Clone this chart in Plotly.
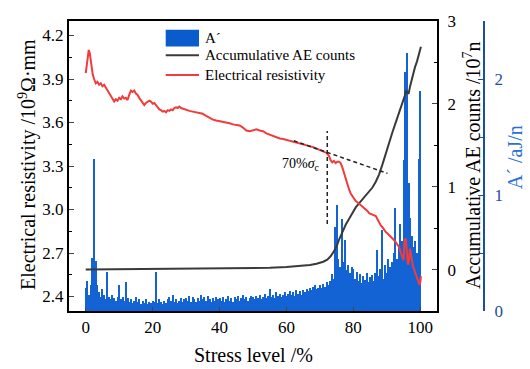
import plotly.graph_objects as go

# ---------------- data ----------------
# A' (aJ/n) bars, every 0.5 % stress level from 0 to 100
a_stress = [i * 0.5 for i in range(201)]
a_vals = [
    0.20, 0.26, 0.14, 0.22, 0.46, 1.31, 0.43, 0.22, 0.16, 0.12,
    0.19, 0.14, 0.10, 0.34, 0.12, 0.10, 0.14, 0.11, 0.09, 0.12,
    0.22, 0.10, 0.12, 0.09, 0.25, 0.11, 0.08, 0.10, 0.07, 0.09,
    0.12, 0.08, 0.10, 0.06, 0.09, 0.07, 0.10, 0.06, 0.08, 0.07,
    0.09, 0.08, 0.34, 0.07, 0.10, 0.08, 0.06, 0.09, 0.07, 0.10,
    0.12, 0.09, 0.14, 0.08, 0.10, 0.07, 0.09, 0.11, 0.08, 0.10,
    0.11, 0.09, 0.13, 0.08, 0.12, 0.10, 0.08, 0.11, 0.09, 0.14,
    0.10, 0.12, 0.09, 0.13, 0.10, 0.08, 0.11, 0.09, 0.12, 0.10,
    0.11, 0.09, 0.12, 0.08, 0.10, 0.13, 0.09, 0.11, 0.08, 0.12,
    0.10, 0.13, 0.09, 0.11, 0.14, 0.10, 0.12, 0.09, 0.11, 0.13,
    0.12, 0.10, 0.13, 0.11, 0.14, 0.10, 0.12, 0.15, 0.11, 0.13,
    0.19, 0.12, 0.14, 0.11, 0.16, 0.13, 0.15, 0.12, 0.14, 0.16,
    0.13, 0.15, 0.17, 0.14, 0.16, 0.13, 0.18, 0.15, 0.17, 0.14,
    0.18, 0.16, 0.19, 0.17, 0.20, 0.18, 0.21, 0.22, 0.19, 0.20,
    0.22, 0.20, 0.23, 0.21, 0.25, 0.22, 0.26, 0.32, 0.28, 0.72,
    0.91, 0.45, 0.38, 0.79, 0.42, 0.61, 0.35, 0.40, 0.33, 0.38,
    0.36, 0.28, 0.34, 0.26, 0.32, 0.24, 0.30, 0.27, 0.33, 0.25,
    0.29, 0.31, 0.26, 0.33, 0.53, 0.30, 0.36, 0.70, 0.28, 0.40,
    0.33, 0.45, 0.38, 0.42, 0.50, 0.89, 0.45, 0.55, 0.75, 0.60,
    1.30, 2.06, 2.22, 1.10, 0.80, 0.65, 0.55, 0.60, 0.50, 1.31,
    1.90,
]

# Accumulative AE counts (10^7 n)
acc_stress = [0, 10, 20, 30, 40, 50, 55, 60, 64, 67, 69, 71, 72.2, 73.2, 74.2,
              75.2, 75.7, 76.7, 77.7, 78.7, 79.7, 80.7, 81.7, 82.7, 83.7, 84.7,
              85.7, 86.7, 87.7, 88.7, 89.7, 90.7, 91.7, 92.7, 93.7, 94.7, 95.4,
              95.7, 96.0, 96.5, 97.0, 97.7, 98.4, 99.0, 99.6, 100.2]
acc_vals = [0.0, 0.003, 0.006, 0.009, 0.013, 0.018, 0.022, 0.03, 0.04, 0.055,
            0.07, 0.095, 0.12, 0.16, 0.22, 0.30, 0.36, 0.46, 0.54, 0.61, 0.68,
            0.75, 0.80, 0.85, 0.89, 0.94, 0.99, 1.06, 1.15, 1.27, 1.41, 1.54,
            1.66, 1.78, 1.89, 2.01, 2.10, 2.16, 2.14, 2.12, 2.22, 2.35, 2.44,
            2.51, 2.60, 2.69]

# Electrical resistivity (10^9 Ohm mm)
res_stress = [0.0, 0.3, 0.6, 0.9, 1.2, 1.5, 1.8, 2.1, 2.5, 3.0, 3.5, 4.0, 4.5,
              5.0, 5.5, 6.0, 6.5, 7.0, 7.5, 8.0, 8.5, 9.0, 9.5, 10.0, 10.5,
              11.0, 11.5, 12.0, 12.5, 13.0, 13.5, 14.0, 14.5, 15.0, 15.5, 16.0,
              16.5, 17.0, 17.5, 18.0, 18.5, 19.0, 19.5, 20.0, 20.5, 21.0, 21.5,
              22.0, 22.5, 23.0, 23.5, 24.0, 24.5, 25.0, 25.5, 26.0, 26.5, 27.0,
              27.5, 28.0, 28.5, 29.0, 29.5, 30, 31, 32, 33, 34, 35, 36, 37, 38,
              39, 40, 41, 42, 43, 44, 45, 46, 47, 48, 49, 50, 51, 52, 53, 54,
              55, 56, 57, 58, 59, 60, 61, 62, 63, 64, 65, 66, 67, 68, 69, 70,
              71, 72, 72.7, 73.2, 73.7, 74.2, 74.7, 75.2, 75.7, 76.2, 76.7,
              77.2, 77.7, 78.2, 78.7, 79.2, 79.7, 80.2, 80.7, 81.2, 81.7, 82.2,
              82.7, 83.2, 83.7, 84.2, 84.7, 85.2, 85.7, 86.2, 86.7, 87.2, 87.7,
              88.2, 88.7, 89.2, 89.7, 90.2, 90.7, 91.2, 91.7, 92.2, 92.7, 93.2,
              93.7, 94.2, 94.7, 95.0, 95.3, 95.7, 96.0, 96.3, 96.6, 96.9, 97.2,
              97.5, 97.8, 98.1, 98.4, 98.7, 99.0, 99.3, 99.6, 99.8, 100.0, 100.2]
res_vals = [3.94, 3.99, 4.06, 4.10, 4.08, 4.03, 3.97, 3.93, 3.90, 3.87, 3.88,
            3.86, 3.87, 3.85, 3.86, 3.84, 3.82, 3.80, 3.78, 3.76, 3.745, 3.76,
            3.75, 3.77, 3.76, 3.78, 3.765, 3.77, 3.755, 3.79, 3.82, 3.81, 3.82,
            3.80, 3.79, 3.77, 3.75, 3.73, 3.72, 3.735, 3.74, 3.75, 3.745, 3.73,
            3.735, 3.72, 3.71, 3.69, 3.685, 3.675, 3.68, 3.67, 3.685, 3.68,
            3.69, 3.685, 3.70, 3.705, 3.70, 3.71, 3.70, 3.695, 3.69, 3.685,
            3.68, 3.675, 3.67, 3.667, 3.66, 3.645, 3.63, 3.62, 3.614, 3.61,
            3.605, 3.60, 3.595, 3.587, 3.585, 3.58, 3.565, 3.545, 3.54, 3.545,
            3.553, 3.545, 3.54, 3.525, 3.515, 3.51, 3.50, 3.49, 3.486, 3.48,
            3.47, 3.466, 3.46, 3.452, 3.445, 3.44, 3.435, 3.43, 3.42, 3.41,
            3.40, 3.39, 3.37, 3.34, 3.325, 3.335, 3.32, 3.33, 3.33, 3.32, 3.29,
            3.25, 3.21, 3.17, 3.14, 3.11, 3.09, 3.07, 3.058, 3.05, 3.04, 3.035,
            3.025, 3.01, 3.00, 2.99, 2.975, 2.968, 2.965, 2.96, 2.955, 2.93,
            2.91, 2.89, 2.878, 2.86, 2.844, 2.835, 2.825, 2.81, 2.80, 2.788,
            2.77, 2.76, 2.74, 2.70, 2.664, 2.65, 2.79, 2.80, 2.70, 2.62, 2.64,
            2.73, 2.69, 2.63, 2.61, 2.59, 2.56, 2.55, 2.53, 2.51, 2.49, 2.48,
            2.50, 2.54]

# guide lines (70 % sigma_c)
tangent_x = [62.2, 90.2]
tangent_y = [3.474, 3.249]
vline_x = [72.2, 72.2]
vline_y = [2.90, 3.542]

x_ticks = [0, 20, 40, 60, 80, 100]
res_ticks = [2.4, 2.7, 3.0, 3.3, 3.6, 3.9, 4.2]
acc_ticks = [0, 1, 2, 3]
a_ticks = [0, 1, 2]

# ---------------- styling ----------------
FONT = "Liberation Serif"
BAR_C = "#1463d4"
RED = "#f23b3b"
BLK = "#3a3a3a"
AXB = "#1d4e9e"
TITB = "#2b6fd6"

fig = go.Figure()
fig.add_trace(go.Bar(x=a_stress, y=a_vals, width=0.3, marker=dict(color=BAR_C, line=dict(width=0)),
                     yaxis="y2", name="A´"))
fig.add_trace(go.Scatter(x=acc_stress, y=acc_vals, mode="lines", line=dict(color=BLK, width=2),
                         yaxis="y3", name="Accumulative AE counts"))
fig.add_trace(go.Scatter(x=res_stress, y=res_vals, mode="lines", line=dict(color=RED, width=2),
                         yaxis="y4", name="Electrical resistivity"))
fig.add_trace(go.Scatter(x=tangent_x, y=tangent_y, mode="lines",
                         line=dict(color="#222222", width=1.5, dash="4px,3px"), yaxis="y4"))
fig.add_trace(go.Scatter(x=vline_x, y=vline_y, mode="lines",
                         line=dict(color="#222222", width=1.5, dash="4px,3px"), yaxis="y4"))

XD = (437 - 69) / 415

def px(xp):
    return (xp - 69) / 415

def py(yp):
    return (311 - yp) / 296

fig.update_layout(
    width=530, height=369,
    margin=dict(l=69, r=46, t=15, b=58),
    paper_bgcolor="white", plot_bgcolor="white",
    showlegend=False,
    font=dict(family=FONT, size=17, color="black"),
    bargap=0,
    xaxis=dict(domain=[0, XD], range=[-5, 105], tickvals=x_ticks, ticks="inside", ticklen=4,
               showline=True, linewidth=2, linecolor="black", mirror=True,
               showgrid=False, zeroline=False, tickfont=dict(size=17)),
    yaxis=dict(range=[2.3, 4.3], tickvals=res_ticks, ticktext=["2.4", "2.7", "3.0", "3.3", "3.6", "3.9", "4.2"],
               ticks="inside", ticklen=5,
               minor=dict(ticks="inside", ticklen=3, tick0=2.4, dtick=0.15, tickcolor="black"),
               showline=True, linewidth=2, linecolor="black",
               showgrid=False, zeroline=False, tickfont=dict(size=17)),
    yaxis2=dict(overlaying="y", side="right", anchor="free", position=1.0, range=[0, 2.5],
                tickvals=a_ticks, ticks="inside", ticklen=5, tickcolor=AXB,
                minor=dict(ticks="inside", ticklen=3, tick0=0, dtick=0.5, tickcolor=AXB),
                showline=True, linewidth=2, linecolor=AXB,
                showgrid=False, zeroline=False, tickfont=dict(size=17, color=AXB),
                ticklabelstandoff=6),
    yaxis3=dict(overlaying="y", side="right", anchor="x", range=[-0.5, 3],
                tickvals=acc_ticks, ticks="inside", ticklen=5,
                minor=dict(ticks="inside", ticklen=3, tick0=0, dtick=0.5, tickcolor="black"),
                showline=True, linewidth=2, linecolor="black",
                showgrid=False, zeroline=False, tickfont=dict(size=17),
                ticklabelstandoff=5),
    yaxis4=dict(overlaying="y", range=[2.3, 4.3], visible=False),
)

# manual legend
fig.add_shape(type="rect", xref="paper", yref="paper", x0=px(165.7), x1=px(199), y0=py(41), y1=py(24),
              fillcolor="#0a5ccc", line=dict(width=0))
fig.add_shape(type="line", xref="paper", yref="paper", x0=px(165.7), x1=px(199), y0=py(50), y1=py(50),
              line=dict(color=BLK, width=2))
fig.add_shape(type="line", xref="paper", yref="paper", x0=px(165.7), x1=px(199), y0=py(70), y1=py(70),
              line=dict(color=RED, width=2))
for txt, yy in [("A´", 32.5), ("Accumulative AE counts", 50), ("Electrical resistivity", 70)]:
    fig.add_annotation(text=txt, xref="paper", yref="paper", x=px(203), y=py(yy), xanchor="left",
                       yanchor="middle", showarrow=False, font=dict(size=15, family=FONT, color="black"))

# axis titles
fig.add_annotation(text="Electrical resistivity /10<sup>9</sup>Ω·mm", xref="paper", yref="paper",
                   x=px(27), y=py(162), textangle=-90, showarrow=False, xanchor="center", yanchor="middle",
                   font=dict(size=20, family=FONT, color="black"))
fig.add_annotation(text="Accumulative AE counts /10<sup>7</sup>n", xref="paper", yref="paper",
                   x=px(472), y=py(162), textangle=-90, showarrow=False, xanchor="center", yanchor="middle",
                   font=dict(size=20, family=FONT, color="black"))
fig.add_annotation(text="A´ /aJ/n", xref="paper", yref="paper",
                   x=px(515), y=py(154), textangle=-90, showarrow=False, xanchor="center", yanchor="middle",
                   font=dict(size=20, family=FONT, color=TITB))
fig.add_annotation(text="Stress level /%", xref="paper", yref="paper",
                   x=px(253), y=py(356), showarrow=False, xanchor="center", yanchor="middle",
                   font=dict(size=20, family=FONT, color="black"))
fig.add_annotation(text="70%<i>σ</i><sub>c</sub>", xref="x", yref="y", x=64.2, y=3.312,
                   showarrow=False, xanchor="center", yanchor="middle",
                   font=dict(size=14, family=FONT, color="black"))

fig.write_html("out.html")
